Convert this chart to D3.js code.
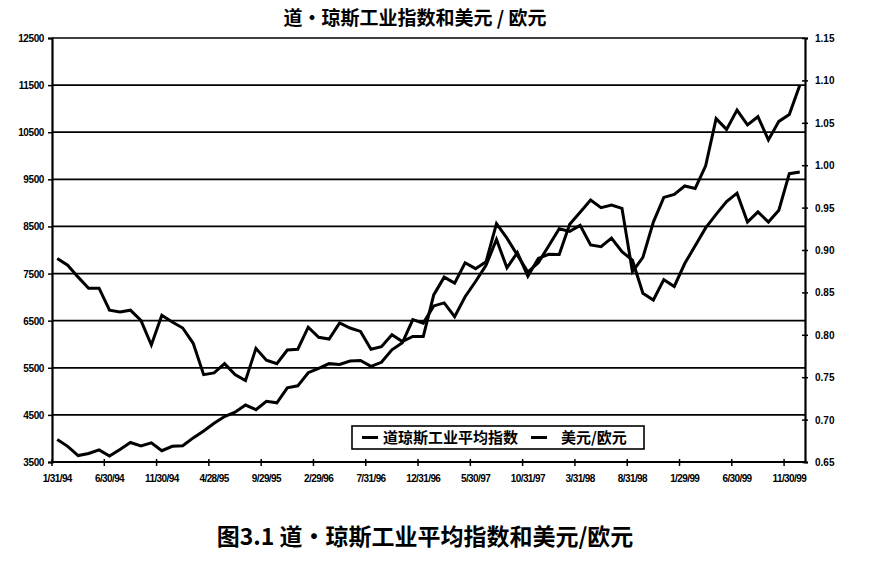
<!DOCTYPE html>
<html>
<head>
<meta charset="utf-8">
<script src="https://cdn.jsdelivr.net/npm/d3@7"></script>
<style>
  html, body { margin: 0; padding: 0; background: #fff; }
  svg { display: block; }
  .num { font-family: "Liberation Sans", Arial, sans-serif; font-weight: bold; fill: #000; }
  .cjk { font-family: "Noto Sans CJK SC", "Noto Sans", sans-serif; font-weight: bold; fill: #000; }
</style>
</head>
<body>
<svg id="chart" width="880" height="561"></svg>
<script>
// ---- data ----
const categories = [
  "1/31/94","2/28/94","3/31/94","4/29/94","5/31/94","6/30/94","7/29/94","8/31/94","9/30/94","10/31/94","11/30/94","12/30/94",
  "1/31/95","2/28/95","3/31/95","4/28/95","5/31/95","6/30/95","7/31/95","8/31/95","9/29/95","10/31/95","11/30/95","12/29/95",
  "1/31/96","2/29/96","3/29/96","4/30/96","5/31/96","6/28/96","7/31/96","8/30/96","9/30/96","10/31/96","11/29/96","12/31/96",
  "1/31/97","2/28/97","3/31/97","4/30/97","5/30/97","6/30/97","7/31/97","8/29/97","9/30/97","10/31/97","11/28/97","12/31/97",
  "1/30/98","2/27/98","3/31/98","4/30/98","5/29/98","6/30/98","7/31/98","8/31/98","9/30/98","10/30/98","11/30/98","12/31/98",
  "1/29/99","2/26/99","3/31/99","4/30/99","5/31/99","6/30/99","7/30/99","8/31/99","9/30/99","10/29/99","11/30/99","12/31/99"
];
const dowValues = [
  3978,3832,3636,3682,3758,3625,3765,3914,3843,3908,3739,3834,
  3844,4011,4158,4321,4465,4556,4709,4611,4789,4756,5075,5117,
  5395,5486,5588,5569,5643,5655,5529,5616,5882,6029,6522,6448,
  6813,6878,6584,7009,7331,7673,8223,7622,7945,7442,7823,7908,
  7907,8546,8800,9063,8900,8952,8884,7539,7843,8592,9117,9181,
  9359,9307,9786,10789,10560,10971,10655,10829,10337,10730,10878,11497
];
const usdEurValues = [
  0.890,0.882,0.868,0.855,0.855,0.829,0.827,0.829,0.817,0.788,0.823,0.815,
  0.808,0.790,0.753,0.755,0.766,0.753,0.746,0.784,0.770,0.766,0.782,0.783,
  0.809,0.797,0.795,0.814,0.808,0.804,0.783,0.786,0.800,0.792,0.798,0.798,
  0.847,0.868,0.861,0.885,0.878,0.886,0.931,0.914,0.894,0.874,0.885,0.905,
  0.925,0.922,0.929,0.906,0.904,0.914,0.898,0.888,0.849,0.841,0.865,0.857,
  0.884,0.905,0.926,0.942,0.957,0.967,0.933,0.945,0.933,0.947,0.990,0.992
];
const leftTicks = [3500,4500,5500,6500,7500,8500,9500,10500,11500,12500];
const rightTicks = [0.65,0.70,0.75,0.80,0.85,0.90,0.95,1.00,1.05,1.10,1.15];
const seriesNames = ["道琼斯工业平均指数", "美元/欧元"];
const chartTitle = "道·琼斯工业指数和美元 / 欧元";
const captionText = "图3.1 道・琼斯工业平均指数和美元/欧元";

// ---- layout ----
const L = 52, R = 805, T = 38, B = 462;
const svg = d3.select("#chart");
svg.append("rect").attr("width", 880).attr("height", 561).attr("fill", "#fff");

const x = d3.scaleBand().domain(categories).range([L, R]).padding(0);
const yL = d3.scaleLinear().domain([3500, 12500]).range([B, T]);
const yR = d3.scaleLinear().domain([0.65, 1.15]).range([B, T]);
const cx = d => x(d) + x.bandwidth() / 2;

// gridlines
svg.append("g").selectAll("line").data(leftTicks.filter(t => t > 3500 && t < 12500))
  .join("line")
  .attr("x1", L).attr("x2", R)
  .attr("y1", d => yL(d)).attr("y2", d => yL(d))
  .attr("stroke", "#000").attr("stroke-width", 1.7);

// plot border top
svg.append("line").attr("x1", L).attr("x2", R).attr("y1", T).attr("y2", T)
  .attr("stroke", "#000").attr("stroke-width", 1.5);

// left axis
const gL = svg.append("g").attr("transform", `translate(${L},0)`)
  .call(d3.axisLeft(yL).tickValues(leftTicks).tickSize(4).tickPadding(4).tickFormat(d3.format("d")));
gL.select(".domain").attr("stroke", "#000").attr("stroke-width", 2.2);
gL.selectAll(".tick line").attr("stroke", "#000").attr("stroke-width", 1.5);
gL.selectAll(".tick text").attr("font-size", 10).attr("dy", "0.35em").attr("fill", "#000")
  .attr("font-family", "Liberation Sans, Arial, sans-serif").attr("font-weight", "bold").attr("letter-spacing", "-0.4");

// right axis
const gR = svg.append("g").attr("transform", `translate(${R},0)`)
  .call(d3.axisRight(yR).tickValues(rightTicks).tickSize(3).tickPadding(7).tickFormat(d3.format(".2f")));
gR.select(".domain").attr("stroke", "#000").attr("stroke-width", 2.2);
gR.selectAll(".tick line").attr("x1", -3).attr("stroke", "#000").attr("stroke-width", 1.5);
gR.selectAll(".tick text").attr("font-size", 10).attr("dy", "0.35em")
  .attr("font-family", "Liberation Sans, Arial, sans-serif").attr("font-weight", "bold").attr("fill", "#000");

// bottom axis: ticks at category boundaries every 5, labels at category centers
const tickCats = categories.filter((d, i) => i % 5 === 0);
const gB = svg.append("g").attr("transform", `translate(0,${B})`);
gB.append("line").attr("x1", L).attr("x2", R).attr("y1", 0).attr("y2", 0)
  .attr("stroke", "#000").attr("stroke-width", 2.2);
gB.selectAll("line.tk").data(tickCats).join("line").attr("class", "tk")
  .attr("x1", d => x(d)).attr("x2", d => x(d)).attr("y1", -3).attr("y2", 4)
  .attr("stroke", "#000").attr("stroke-width", 1.5);
gB.selectAll("text").data(tickCats).join("text")
  .attr("x", d => cx(d)).attr("y", 20)
  .attr("text-anchor", "middle")
  .attr("font-family", "Liberation Sans, Arial, sans-serif").attr("font-weight", "bold")
  .attr("font-size", 10).attr("letter-spacing", "-0.6").attr("fill", "#000")
  .text(d => d);

// lines
const lineDow = d3.line().x((d, i) => cx(categories[i])).y(d => yL(d));
const lineEur = d3.line().x((d, i) => cx(categories[i])).y(d => yR(d));
svg.append("path").datum(usdEurValues).attr("d", lineEur)
  .attr("fill", "none").attr("stroke", "#000").attr("stroke-width", 3).attr("stroke-linejoin", "miter");
svg.append("path").datum(dowValues).attr("d", lineDow)
  .attr("fill", "none").attr("stroke", "#000").attr("stroke-width", 3).attr("stroke-linejoin", "miter");

// legend
const lg = svg.append("g");
lg.append("rect").attr("x", 352).attr("y", 426).attr("width", 292).attr("height", 23)
  .attr("fill", "#fff").attr("stroke", "#000").attr("stroke-width", 1.6);
const legendItems = [
  { name: seriesNames[0], lx: 362, tx: 383 },
  { name: seriesNames[1], lx: 531, tx: 561 }
];
legendItems.forEach(it => {
  lg.append("line").attr("x1", it.lx).attr("x2", it.lx + 16).attr("y1", 437.5).attr("y2", 437.5)
    .attr("stroke", "#000").attr("stroke-width", 3);
  lg.append("text").attr("class", "cjk").attr("x", it.tx).attr("y", 443)
    .attr("font-size", 15).text(it.name);
});

// title
svg.append("text").attr("class", "cjk").attr("x", 415).attr("y", 25)
  .attr("text-anchor", "middle").attr("font-size", 19).text(chartTitle);

// caption
svg.append("text").attr("class", "cjk").attr("x", 425).attr("y", 545)
  .attr("text-anchor", "middle").attr("font-size", 23).text(captionText);
</script>
</body>
</html>
